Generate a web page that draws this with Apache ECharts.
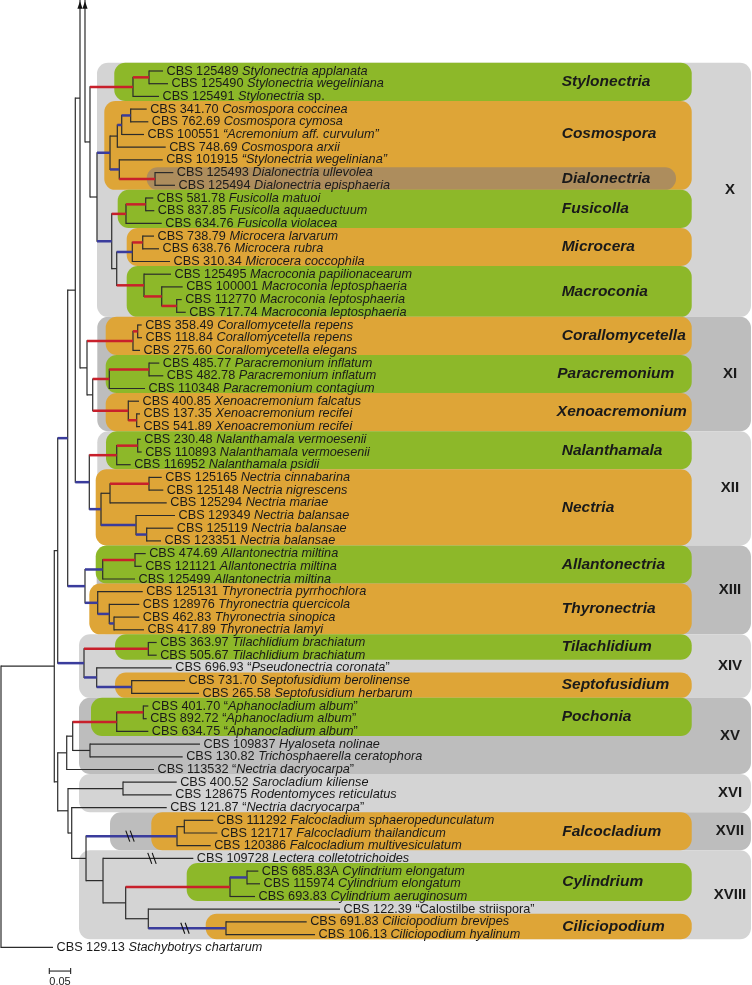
<!DOCTYPE html>
<html><head><meta charset="utf-8">
<script src="https://cdn.jsdelivr.net/npm/echarts@6/dist/echarts.min.js"></script>
<style>html,body{margin:0;padding:0;background:#fff}#c{width:752px;height:985px}</style>
</head><body><div id="c"></div>
<script>
// ================= DATA =================
// Leaves (top to bottom). Italic parts of the taxon names are wrapped in *...*
const strains = ['CBS 125489','CBS 125490','CBS 125491','CBS 341.70','CBS 762.69','CBS 100551','CBS 748.69','CBS 101915','CBS 125493','CBS 125494',
 'CBS 581.78','CBS 837.85','CBS 634.76','CBS 738.79','CBS 638.76','CBS 310.34','CBS 125495','CBS 100001','CBS 112770','CBS 717.74',
 'CBS 358.49','CBS 118.84','CBS 275.60','CBS 485.77','CBS 482.78','CBS 110348','CBS 400.85','CBS 137.35','CBS 541.89','CBS 230.48',
 'CBS 110893','CBS 116952','CBS 125165','CBS 125148','CBS 125294','CBS 129349','CBS 125119','CBS 123351','CBS 474.69','CBS 121121',
 'CBS 125499','CBS 125131','CBS 128976','CBS 462.83','CBS 417.89','CBS 363.97','CBS 505.67','CBS 696.93','CBS 731.70','CBS 265.58',
 'CBS 401.70','CBS 892.72','CBS 634.75','CBS 109837','CBS 130.82','CBS 113532','CBS 400.52','CBS 128675','CBS 121.87','CBS 111292',
 'CBS 121717','CBS 120386','CBS 109728','CBS 685.83A','CBS 115974','CBS 693.83','CBS 122.39','CBS 691.83','CBS 106.13','CBS 129.13'];
const taxa = ['*Stylonectria applanata*','*Stylonectria wegeliniana*','*Stylonectria* sp.','*Cosmospora coccinea*','*Cosmospora cymosa*',
 '*\u201cAcremonium aff. curvulum\u201d*','*Cosmospora arxii*','*\u201cStylonectria wegeliniana\u201d*','*Dialonectria ullevolea*','*Dialonectria episphaeria*',
 '*Fusicolla matuoi*','*Fusicolla aquaeductuum*','*Fusicolla violacea*','*Microcera larvarum*','*Microcera rubra*','*Microcera coccophila*',
 '*Macroconia papilionacearum*','*Macroconia leptosphaeria*','*Macroconia leptosphaeria*','*Macroconia leptosphaeria*',
 '*Corallomycetella repens*','*Corallomycetella repens*','*Corallomycetella elegans*','*Paracremonium inflatum*','*Paracremonium inflatum*',
 '*Paracremonium contagium*','*Xenoacremonium falcatus*','*Xenoacremonium recifei*','*Xenoacremonium recifei*','*Nalanthamala vermoesenii*',
 '*Nalanthamala vermoesenii*','*Nalanthamala psidii*','*Nectria cinnabarina*','*Nectria nigrescens*','*Nectria mariae*','*Nectria balansae*',
 '*Nectria balansae*','*Nectria balansae*','*Allantonectria miltina*','*Allantonectria miltina*','*Allantonectria miltina*',
 '*Thyronectria pyrrhochlora*','*Thyronectria quercicola*','*Thyronectria sinopica*','*Thyronectria lamyi*','*Tilachlidium brachiatum*',
 '*Tilachlidium brachiatum*','\u201c*Pseudonectria coronata*\u201d','*Septofusidium berolinense*','*Septofusidium herbarum*',
 '\u201c*Aphanocladium album*\u201d','\u201c*Aphanocladium album*\u201d','\u201c*Aphanocladium album*\u201d','*Hyaloseta nolinae*',
 '*Trichosphaerella ceratophora*','\u201c*Nectria dacryocarpa*\u201d','*Sarocladium kiliense*','*Rodentomyces reticulatus*',
 '\u201c*Nectria dacryocarpa*\u201d','*Falcocladium sphaeropedunculatum*','*Falcocladium thailandicum*','*Falcocladium multivesiculatum*',
 '*Lectera colletotrichoides*','*Cylindrium elongatum*','*Cylindrium elongatum*','*Cylindrium aeruginosum*','\u201cCalostilbe striispora\u201d',
 '*Ciliciopodium brevipes*','*Ciliciopodium hyalinum*','*Stachybotrys chartarum*'];
// Parent node of every leaf and tip depth (substitutions per site from root)
const leafParent = ['Sty1','Sty1','Stylo','Cos4','Cos4','Cos3','Cos1','Cos2','Dia','Dia',
 'Fus1','Fus1','Fus','Mic1','Mic1','Mic','Mac','Mac1','Mac2','Mac2',
 'Cor1','Cor1','Cor','Par1','Par1','Par','Xen','Xen1','Xen1','Nal1',
 'Nal1','Nal','Nec3','Nec3','Nec1','Nec2','Nec4','Nec4','All1','All1',
 'All','Thy','Thy1','Thy2','Thy2','Til','Til','XIV2','Sep','Sep',
 'Poc1','Poc1','Poc','Hya','Hya','XV','Sar','Sar','S6','Fal1',
 'Fal1','Fal','XVIII','Cyl1','Cyl1','Cyl','Cal','Cil','Cil','R'];
const leafDepth = [.3794,.3911,.3700,.3412,.3450,.3349,.3857,.3787,.4035,.4075,
 .3567,.3590,.3764,.3583,.3700,.3958,.3981,.4255,.4232,.4326,
 .3295,.3302,.3255,.3707,.3801,.3372,.3232,.3255,.3255,.3272,
 .3295,.3037,.3764,.3801,.3881,.4075,.4035,.3747,.3389,.3295,
 .3138,.3319,.3239,.3239,.3349,.3646,.3646,.3998,.4309,.4637,
 .3450,.3412,.3450,.4660,.4255,.3583,.4115,.3998,.3881,.4972,
 .5066,.4911,.4504,.6026,.6066,.5948,.7939,.7159,.7354,.1218];
// Internal nodes
const nodeId = ['R','S1','S2','S4','N75','Nb','Na','X','Stylo','Sty1','X2','Cos','Cos1','Cos3','Cos4','Cos2','Dia','FMM','Fus','Fus1',
 'MM','Mic','Mic1','Mac','Mac1','Mac2','XI','Cor','Cor1','PX','Par','Par1','Xen','Xen1','XII','Nal','Nal1','Nec','Nec1','Nec3',
 'Nec2','Nec4','XIII','All','All1','Thy','Thy1','Thy2','XIV','Til','XIV2','Sep','S3','XV','XV2','Poc','Poc1','Hya','S5','Sar',
 'S6','S7','Fal','Fal1','XVIII','Cy0','Cyl','Cyl1','Cal','Cil'];
const nodeParent = ['','R','S1','S2','S4','N75','','Na','X','Stylo','X','X2','Cos','Cos1','Cos3','Cos','Cos2','X2','FMM','Fus',
 'FMM','MM','Mic','MM','Mac','Mac1','Nb','XI','Cor','XI','PX','Par','PX','Xen','N75','XII','Nal','XII','Nec','Nec1',
 'Nec','Nec2','S4','XIII','All','XIII','Thy','Thy1','S2','XIV','XIV','XIV2','S1','S3','XV','XV2','Poc','XV2','S3','S5',
 'S5','S6','S7','Fal','S7','XVIII','Cy0','Cyl','Cy0','Cal'];
const nodeDepth = [0,.1248,.1328,.1562,.1740,.1850,.1967,.2084,.3091,.3466,.2248,.2553,.2724,.2827,.3037,.2770,.3607,.2593,.2927,.3389,
 .2710,.3075,.3319,.3349,.3764,.4115,.2014,.3091,.3201,.2148,.2536,.3466,.2981,.3178,.2068,.2710,.3201,.2342,.2553,.3466,
 .3162,.3412,.1967,.2382,.3138,.2265,.2536,.2646,.1944,.3450,.2241,.3061,.1328,.1539,.1679,.2710,.3333,.2084,.1569,.2857,
 .1656,.1991,.4122,.4293,.2389,.2920,.5363,.5761,.3450,.5269];
// Support of the stem leading to each node: 0 none, 1 strong (red), 2 moderate (blue)
const nodeSupport = [0,0,0,2,0,0,0,0,1,1,0,2,0,2,2,2,1,2,1,1,
 0,2,1,1,1,1,0,1,1,0,1,1,1,1,2,1,1,2,0,1,
 2,2,2,2,1,2,2,2,2,1,2,2,0,0,0,1,1,0,0,0,
 0,0,2,0,0,0,1,2,0,2];
// Lineages continuing above the shown part of the tree
const contParent = ['Na','Nb'];
const contRow = [-20, -19.1];
// Shortened branches (break marks)
const breakBranch = ['Fal','L62','Cil'];
const breakDepth = [0.3021, 0.3536, 0.4309];
// Clades and genera (first/last leaf row)
const cladeNames = ['X','XI','XII','XIII','XIV','XV','XVI','XVII','XVIII'];
const cladeFirst = [0,20,29,38,45,50,56,59,62];
const cladeLast  = [19,28,37,44,49,55,58,61,68];
const genusNames = ['Stylonectria','Cosmospora','Dialonectria','Fusicolla','Microcera','Macroconia','Corallomycetella','Paracremonium',
 'Xenoacremonium','Nalanthamala','Nectria','Allantonectria','Thyronectria','Tilachlidium','Septofusidium','Pochonia','Falcocladium',
 'Cylindrium','Ciliciopodium'];
const genusFirst = [0,3,8,10,13,16,20,23,26,29,32,38,41,45,48,50,59,63,67];
const genusLast  = [2,9,9,12,15,19,22,25,28,31,37,40,44,46,49,52,61,65,68];
const scaleBarLength = 0.05;

// ================= LAYOUT / STYLE =================
const F = "'Liberation Sans', Arial, Helvetica, sans-serif";
const PX_PER_UNIT = 427, ROW_PX = 12.7, ROW0_Y = 71, W = 752, H = 985;
const GREEN = '#8DB829', ORANGE = '#DEA537', BROWN = '#AD8D5D', LIGHT = '#D4D4D4', DARK = '#BDBDBD';
const fills = [LIGHT, DARK, GREEN, ORANGE, BROWN];
const cladeShade = [0,1,0,1,0,1,0,1,0];
const cladeLeft = [0.2248,0.2255,0.2255,0.2241,0.1827,0.1827,0.1827,0.2553,0.1827];
const cladeRight = 1.7564, cladeLabelX = 1.7073;
const genusFill = [2,3,4,2,3,2,3,2,3,2,3,2,3,2,3,2,3,2,3];
const genusLeft = [0.2653,0.2419,0.3412,0.2733,0.2944,0.2944,0.2452,0.2452,0.2452,0.2459,0.2218,0.2218,0.2068,0.2670,0.2670,0.2108,0.3520,0.4349,0.4794];
const genusRight = 1.6176, nestedRight = 1.5808;
const genusLabelX = [1.3131,1.3131,1.3131,1.3131,1.3131,1.3131,1.3131,1.3026,1.3017,1.3131,1.3131,1.3131,1.3131,1.3131,1.3131,1.3131,1.3143,1.3143,1.3143];
const PAD_TOP = 0.64, PAD_BOT = 0.36, NEST_PAD_TOP = 0.42;
const scaleBarPos = [0.1131, 70.87];
const arrowTipRow = -5.5;
const lineColors = ['#2b2b2b','#C8202B','#3A3C9C'];
const lineWidths = [1.2, 2.5, 2.5];
const LEAF_FS = 12.7;

// ================= TREE GEOMETRY =================
const idx = {}; nodeId.forEach((id,i)=>idx[id]=i);
const kids = nodeId.map(()=>[]);
nodeParent.forEach((p,i)=>{ if(p) kids[idx[p]].push({t:'n',i}); });
leafParent.forEach((p,i)=>kids[idx[p]].push({t:'l',i}));
contParent.forEach((p,i)=>kids[idx[p]].push({t:'c',i}));
const nodeRow = [];
function rowOf(c){ return c.t==='l' ? c.i : c.t==='c' ? contRow[c.i] : calcRow(c.i); }
function calcRow(i){
  if(nodeRow[i]===undefined){ const rs = kids[i].map(rowOf); nodeRow[i] = (Math.min(...rs)+Math.max(...rs))/2; }
  return nodeRow[i];
}
nodeId.forEach((_,i)=>calcRow(i));

const segs = [];
nodeId.forEach((id,i)=>{
  const rs = kids[i].map(rowOf);
  segs.push([nodeDepth[i], Math.min(...rs), nodeDepth[i], Math.max(...rs), 0, 1]);
  kids[i].forEach(c=>{
    if(c.t==='n') segs.push([nodeDepth[i], nodeRow[c.i], nodeDepth[c.i], nodeRow[c.i], nodeSupport[c.i], 0]);
    else if(c.t==='l') segs.push([nodeDepth[i], c.i, leafDepth[c.i], c.i, 0, 0]);
  });
});
segs.sort((a,b)=>(a[4]>0)-(b[4]>0));

// boxes: [left, right, topRow, bottomRow, fillIndex]
const boxes = [];
cladeNames.forEach((n,i)=>boxes.push([cladeLeft[i], cladeRight, cladeFirst[i]-PAD_TOP, cladeLast[i]+PAD_BOT, cladeShade[i]]));
const nestedIn = genusNames.map((n,i)=>genusNames.findIndex((m,j)=>j!==i && genusFirst[j]<=genusFirst[i] && genusLast[j]>=genusLast[i] && (genusLast[j]-genusFirst[j])>(genusLast[i]-genusFirst[i])));
genusNames.forEach((n,i)=>{
  const nested = nestedIn[i] >= 0;
  boxes.push([genusLeft[i], nested ? nestedRight : genusRight, genusFirst[i]-(nested?NEST_PAD_TOP:PAD_TOP), genusLast[i]+PAD_BOT, genusFill[i]]);
});
// labels for boxes: [x, row, kind(0 clade,1 genus), index]
const boxLabels = [];
cladeNames.forEach((n,i)=>boxLabels.push([cladeLabelX, (cladeFirst[i]-PAD_TOP + cladeLast[i]+PAD_BOT)/2, 0, i]));
genusNames.forEach((n,i)=>{
  const nested = nestedIn[i] >= 0;
  const top = genusFirst[i]-(nested?NEST_PAD_TOP:PAD_TOP);
  let bot = genusLast[i]+PAD_BOT;
  const child = nestedIn.indexOf(i);
  if(child >= 0) bot = genusFirst[child]-NEST_PAD_TOP;
  boxLabels.push([genusLabelX[i], (top+bot)/2, 1, i]);
});

function richText(s){
  return s.split('*').map((p,k)=>p ? '{'+(k%2?'i':'n')+'|'+p+'}' : '').join('');
}
const leafText = strains.map((s,i)=>richText(s+' '+taxa[i]));
const leafData = leafDepth.map((d,i)=>[d, i, i]);

const breakData = breakBranch.map((b,i)=>{
  const row = b[0]==='L' ? +b.slice(1) : nodeRow[idx[b]];
  return [breakDepth[i], row];
});
const arrowData = contParent.map(p=>[nodeDepth[idx[p]], arrowTipRow]);

const chart = echarts.init(document.getElementById('c'), null, {width:W, height:H});
chart.setOption({
  animation:false,
  backgroundColor:'#ffffff',
  grid:{left:0,right:0,top:0,bottom:0},
  xAxis:{type:'value', min:-1/PX_PER_UNIT, max:(W-1)/PX_PER_UNIT, show:false},
  yAxis:{type:'value', inverse:true, min:-ROW0_Y/ROW_PX, max:(H-ROW0_Y)/ROW_PX, show:false},
  series:[
    { type:'custom', z:1, silent:true, data:boxes, encode:{x:[0,1],y:[2,3]},
      renderItem(params, api){
        const p1 = api.coord([api.value(0), api.value(2)]), p2 = api.coord([api.value(1), api.value(3)]);
        const h = p2[1]-p1[1];
        return {type:'rect', shape:{x:p1[0], y:p1[1], width:p2[0]-p1[0], height:h, r:Math.min(11,h/2)},
                style:{fill:fills[api.value(4)]}};
      }},
    { type:'custom', z:3, silent:true, data:segs, encode:{x:[0,2],y:[1,3]},
      renderItem(params, api){
        const p1 = api.coord([api.value(0), api.value(1)]), p2 = api.coord([api.value(2), api.value(3)]);
        const c = api.value(4);
        return {type:'line', shape:{x1:p1[0],y1:p1[1],x2:p2[0],y2:p2[1]},
                style:{stroke:lineColors[c], lineWidth:lineWidths[c], lineCap: api.value(5) ? 'square':'butt'}};
      }},
    { type:'custom', z:4, silent:true, data:arrowData, encode:{x:0,y:1},
      renderItem(params, api){
        const p = api.coord([api.value(0), api.value(1)]);
        return {type:'polygon', shape:{points:[[p[0],p[1]],[p[0]-2.6,p[1]+7.5],[p[0]+2.6,p[1]+7.5]]}, style:{fill:'#111'}};
      }},
    { type:'custom', z:4, silent:true, data:breakData, encode:{x:0,y:1},
      renderItem(params, api){
        const p = api.coord([api.value(0), api.value(1)]);
        const ch = [-2.2, 2.2].map(o=>({type:'line', shape:{x1:p[0]+o-2, y1:p[1]-5.5, x2:p[0]+o+2, y2:p[1]+5.5},
                style:{stroke:'#111', lineWidth:1.1}}));
        return {type:'group', children:ch};
      }},
    { type:'custom', z:5, silent:true, data:leafData, encode:{x:0,y:1},
      renderItem(params, api){
        const p = api.coord([api.value(0), api.value(1)]);
        return {type:'text', x:p[0]+3.5, y:p[1],
          style:{text:leafText[api.value(2)], align:'left', verticalAlign:'middle', fill:'#1a1a1a', fontSize:LEAF_FS, fontFamily:F,
            rich:{n:{fontSize:LEAF_FS, fontFamily:F, fill:'#1a1a1a'}, i:{fontSize:LEAF_FS, fontFamily:F, fontStyle:'italic', fill:'#1a1a1a'}}}};
      }},
    { type:'custom', z:5, silent:true, data:boxLabels, encode:{x:0,y:1},
      renderItem(params, api){
        const p = api.coord([api.value(0), api.value(1)]);
        const kind = api.value(2), i = api.value(3);
        if(kind===0) return {type:'text', x:p[0], y:p[1],
          style:{text:cladeNames[i], align:'center', verticalAlign:'middle', fill:'#1a1a1a', fontSize:15, fontWeight:'bold', fontFamily:F}};
        return {type:'text', x:p[0], y:p[1],
          style:{text:genusNames[i], align:'left', verticalAlign:'middle', fill:'#1a1a1a', fontSize:15.5, fontWeight:'bold', fontStyle:'italic', fontFamily:F}};
      }},
    { type:'custom', z:5, silent:true, data:[[scaleBarPos[0], scaleBarPos[1], scaleBarLength]], encode:{x:0,y:1},
      renderItem(params, api){
        const p1 = api.coord([api.value(0), api.value(1)]), p2 = api.coord([api.value(0)+api.value(2), api.value(1)]);
        const st = {stroke:'#222', lineWidth:1.1};
        return {type:'group', children:[
          {type:'line', shape:{x1:p1[0],y1:p1[1],x2:p2[0],y2:p2[1]}, style:st},
          {type:'line', shape:{x1:p1[0],y1:p1[1]-3,x2:p1[0],y2:p1[1]+3}, style:st},
          {type:'line', shape:{x1:p2[0],y1:p2[1]-3,x2:p2[0],y2:p2[1]+3}, style:st},
          {type:'text', x:(p1[0]+p2[0])/2, y:p1[1]+10.5, style:{text:String(api.value(2)), align:'center', verticalAlign:'middle', fill:'#222', fontSize:11, fontFamily:F}}
        ]};
      }}
  ]
});
</script></body></html>
